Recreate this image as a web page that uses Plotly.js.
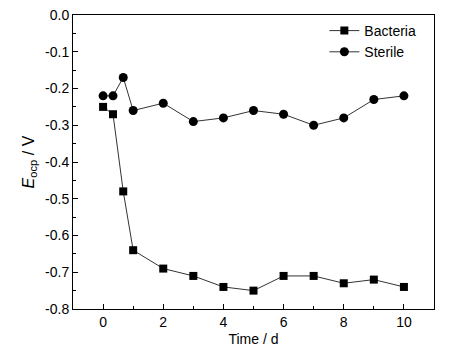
<!DOCTYPE html>
<html><head><meta charset="utf-8">
<script src="https://cdn.plot.ly/plotly-3.0.1.min.js"></script>
<style>body{margin:0;background:#fff}#c{width:453px;height:356px}</style>
</head><body><div id="c"></div>
<script>
const timeDays = [0, 0.33, 0.67, 1, 2, 3, 4, 5, 6, 7, 8, 9, 10];
const bacteria = [-0.25, -0.27, -0.48, -0.64, -0.69, -0.71, -0.74, -0.75, -0.71, -0.71, -0.73, -0.72, -0.74];
const sterile = [-0.22, -0.22, -0.17, -0.26, -0.24, -0.29, -0.28, -0.26, -0.27, -0.30, -0.28, -0.23, -0.22];
const xTicks = [0, 2, 4, 6, 8, 10];
const yTicks = [0, -0.1, -0.2, -0.3, -0.4, -0.5, -0.6, -0.7, -0.8];

const font = {family: 'Liberation Sans, Arial, sans-serif', size: 14, color: '#000'};
const traces = [
  {x: timeDays, y: bacteria, name: 'Bacteria', mode: 'lines+markers',
   line: {color: '#333', width: 1}, marker: {symbol: 'square', size: 8, color: '#000'}},
  {x: timeDays, y: sterile, name: 'Sterile', mode: 'lines+markers',
   line: {color: '#333', width: 1}, marker: {symbol: 'circle', size: 9, color: '#000'}}
];
const layout = {
  width: 453, height: 356,
  margin: {l: 73, r: 19, t: 15, b: 47},
  paper_bgcolor: '#fff', plot_bgcolor: '#fff',
  font: font,
  showlegend: true,
  legend: {x: 0.965, y: 1.0, xanchor: 'right', yanchor: 'top', bgcolor: 'rgba(0,0,0,0)',
           font: {family: font.family, size: 14, color: '#000'}, tracegroupgap: 0, itemwidth: 30},
  xaxis: {range: [-1, 11], tickvals: xTicks, ticktext: xTicks.map(String),
          ticks: 'inside', ticklen: 5, tickcolor: '#000', showline: true, linecolor: '#000', linewidth: 1,
          mirror: true, showgrid: false, zeroline: false,
          minor: {dtick: 1, ticks: 'inside', ticklen: 3, tickcolor: '#000', showgrid: false},
          title: {text: 'Time / d', font: font, standoff: 5}},
  yaxis: {range: [-0.8, 0], tickvals: yTicks, ticktext: yTicks.map(v => v.toFixed(1)),
          ticks: 'inside', ticklen: 5, tickcolor: '#000', showline: true, linecolor: '#000', linewidth: 1,
          mirror: true, showgrid: false, zeroline: false,
          minor: {dtick: 0.05, ticks: 'inside', ticklen: 3, tickcolor: '#000', showgrid: false},
          title: {text: '<i>E</i><sub>ocp</sub> / V', font: {family: font.family, size: 16, color: '#000'}, standoff: 6}}
};
Plotly.newPlot('c', traces, layout, {staticPlot: true, displayModeBar: false});
</script></body></html>
